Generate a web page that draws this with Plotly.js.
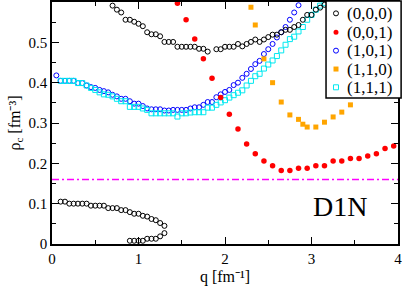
<!DOCTYPE html>
<html><head><meta charset="utf-8">
<script src="https://cdn.plot.ly/plotly-3.0.1.min.js"></script>
<style>html,body{margin:0;padding:0;background:#fff}#chart{width:403px;height:286px}</style>
</head><body><div id="chart"></div>
<script>
// ---- data ----
const seriesNames = ["(0,0,0)", "(0,0,1)", "(1,0,1)", "(1,1,0)", "(1,1,1)"];

// (0,0,0): three branches
const q000_mid = [0.10,0.15,0.20,0.25,0.30,0.35,0.40,0.45,0.50,0.55,0.60,0.65,0.70,0.75,0.80,0.85,0.90,0.95,1.00,1.05,1.10,1.15,1.20,1.25,1.30];
const r000_mid = [0.105,0.105,0.100,0.100,0.100,0.100,0.100,0.095,0.095,0.095,0.095,0.089,0.089,0.089,0.084,0.084,0.079,0.075,0.075,0.070,0.068,0.062,0.059,0.052,0.045];
const q000_low = [0.90,0.95,1.00,1.05,1.10,1.15,1.20,1.25,1.30];
const r000_low = [0.008,0.008,0.008,0.008,0.013,0.013,0.013,0.019,0.027];
const q000_up = [0.70,0.75,0.80,0.85,0.90,0.95,1.00,1.05,1.10,1.15,1.20,1.25,1.30,1.35,1.40,1.45,1.50,1.55,1.60,1.65,1.70,1.75,1.80,
  1.90,1.95,2.00,2.05,2.10,2.15,2.20,2.25,2.30,2.35,2.40,2.45,2.50,2.55,2.60,2.65,2.70,2.75,2.80,2.85,2.90,2.95,3.00,3.05,3.10,3.15];
const r000_up = [0.591,0.581,0.574,0.556,0.556,0.551,0.546,0.540,0.525,0.520,0.520,0.515,0.501,0.501,0.501,0.489,0.489,0.489,0.489,0.489,0.484,0.484,0.477,
  0.483,0.483,0.489,0.489,0.489,0.496,0.490,0.496,0.501,0.507,0.501,0.507,0.513,0.519,0.519,0.525,0.531,0.531,0.538,0.543,0.556,0.568,0.568,0.581,0.586,0.593];

// (0,0,1)
const q001 = [1.45,1.55,1.65,1.75,1.85,1.95,2.05,2.15,2.25,2.35,2.45,2.55,2.65,2.75,2.85,2.95,3.05,3.15,3.25,3.35,3.45,3.55,3.65,3.75,3.85,3.95];
const r001 = [0.597,0.556,0.508,0.459,0.411,0.363,0.322,0.285,0.248,0.224,0.206,0.194,0.182,0.182,0.188,0.188,0.194,0.194,0.206,0.206,0.212,0.212,0.218,0.224,0.237,0.243];

// (1,0,1)
const q101 = [0.05,0.10,0.15,0.20,0.25,0.30,0.35,0.40,0.45,0.50,0.55,0.60,0.65,0.70,0.75,0.80,0.85,0.90,0.95,1.00,1.05,1.10,1.15,1.20,1.25,1.30,1.35,1.40,1.45,1.50,1.55,1.60,1.65,1.70,1.75,1.80,1.85,1.90,1.95,2.00,2.05,2.10,2.15,2.20,2.25,2.30,2.35,2.40,2.45,2.50,2.55,2.60,2.65,2.70,2.75,2.80,2.85];
const r101 = [0.418,0.4045,0.4045,0.4045,0.4045,0.399,0.399,0.393,0.389,
  0.387,0.382,0.379,0.376,0.370,0.366,0.360,0.360,0.354,0.348,0.348,0.342,0.336,0.334,0.334,0.334,0.331,0.331,0.3325,0.3325,0.3325,0.3325,0.336,0.339,0.339,0.345,0.352,0.352,0.364,0.371,0.377,0.382,0.394,0.400,0.412,0.422,0.434,0.446,0.454,0.471,0.483,0.496,0.512,0.525,0.538,0.556,0.574,0.592];

// (1,1,0)
const q110 = [2.30,2.35,2.45,2.55,2.65,2.75,2.85,2.90,2.95,3.05,3.15,3.25,3.35,3.45];
const r110 = [0.587,0.543,0.459,0.400,0.352,0.320,0.309,0.297,0.290,0.290,0.302,0.315,0.327,0.345];

// (1,1,1)
const q111 = [0.10,0.15,0.20,0.25,0.30,0.35,0.40,0.45,0.50,0.55,0.60,0.65,0.70,0.75,0.80,0.85,0.90,0.95,1.00,1.05,1.10,1.15,1.20,1.25,1.30,1.35,1.40,1.45,1.50,1.55,1.60,1.65,1.70,1.75,1.80,1.85,1.90,1.95,2.00,2.05,2.10,2.15,2.20,2.25,2.30,2.35,2.40,2.45,2.50,2.55,2.60,2.65,2.70,2.75,2.80,2.85,2.90,2.95,3.00,3.05,3.10,3.15];
const r111 = [0.4045,0.4045,0.4045,0.4045,0.399,0.399,0.393,0.387,0.382,0.376,0.371,0.370,0.366,0.360,0.354,0.354,0.340,0.340,0.340,0.336,0.3325,0.324,0.324,0.324,0.324,0.324,0.324,0.316,0.324,0.324,0.326,0.3267,0.3267,0.3267,0.338,0.338,0.345,0.351,0.3565,0.363,0.369,0.375,0.381,0.393,0.4045,0.416,0.422,0.435,0.445,0.455,0.466,0.480,0.494,0.508,0.514,0.527,0.538,0.556,0.568,0.581,0.591,0.597];

const rhoSat = [0.16];            // horizontal dash-dot reference density
const xTicks = [0,1,2,3,4];
const yTicks = [0,0.1,0.2,0.3,0.4,0.5];
const yTickText = ["0","0.1","0.2","0.3","0.4","0.5"];
const xTitle = "q [fm\u207B\u00B9]";
const yTitle = "\u03C1<sub>c</sub> [fm\u207B\u00B3]";

// ---- styling ----
const FONT = "'Liberation Serif', 'Times New Roman', serif";
const colors = ["#000000","#ff0000","#0000ff","#ffa500","#00e8f0"];
const symbols = ["circle-open","circle","circle-open","square","square-open"];

const traces = [
  {x: q000_mid.concat(q000_low, q000_up), y: r000_mid.concat(r000_low, r000_up)},
  {x: q001, y: r001},
  {x: q101, y: r101},
  {x: q110, y: r110},
  {x: q111, y: r111}
].map((t,i) => ({
  x: t.x, y: t.y, type: "scatter", mode: "markers", name: seriesNames[i], showlegend: false,
  hoverinfo: "skip",
  marker: {symbol: symbols[i], color: colors[i], size: (i===1?5.5:5),
           line: {color: colors[i], width: (symbols[i].indexOf("open")>=0?1:0)}}
}));
const ordered = [traces[2], traces[4], traces[0], traces[3], traces[1]];

// legend drawn as box + markers + text, in paper coordinates
const shapes = [
  {type:"line", xref:"paper", x0:0, x1:1, yref:"y", y0:rhoSat[0], y1:rhoSat[0],
   line:{color:"#ff00ff", width:1.5, dash:"7px,3px,2px,3px"}},
  {type:"rect", xref:"paper", yref:"paper", x0:0.792, x1:1.009, y0:0.603, y1:1.004,
   fillcolor:"#ffffff", line:{color:"#000", width:1.5}, layer:"above"}
];
const annotations = [];
const rowY = [0.953, 0.875, 0.799, 0.723, 0.6475];
seriesNames.forEach((nm,i) => {
  const filled = symbols[i].indexOf("open") < 0;
  shapes.push({type: symbols[i].startsWith("circle") ? "circle" : "rect",
    xref:"paper", yref:"paper", xsizemode:"pixel", ysizemode:"pixel",
    xanchor:0.8208, yanchor:rowY[i], x0:-2.5, x1:2.5, y0:-2.5, y1:2.5,
    fillcolor: filled ? colors[i] : "rgba(0,0,0,0)",
    line:{color:colors[i], width: filled ? 0 : 1}, layer:"above"});
  annotations.push({text: nm, xref:"paper", yref:"paper", x:0.8468, y:rowY[i],
    xanchor:"left", yanchor:"middle", showarrow:false, font:{family:FONT, size:17, color:"#000"}});
});
annotations.push({text:"D1N", xref:"paper", yref:"paper", x:0.832, y:0.157, xanchor:"center", yanchor:"middle",
  showarrow:false, font:{family:FONT, size:28, color:"#000"}});

const axisCommon = {
  showgrid:false, zeroline:false, showline:true, linecolor:"#000", linewidth:1.5, mirror:"ticks",
  ticks:"inside", ticklen:7, tickwidth:1.2, tickcolor:"#000",
  tickfont:{family:FONT, size:15, color:"#000"},
};
const layout = {
  width:403, height:286, margin:{l:52, r:5, t:2, b:42},
  font:{family:FONT, size:15, color:"#000"},
  paper_bgcolor:"#fff", plot_bgcolor:"#fff", showlegend:false,
  xaxis: Object.assign({}, axisCommon, {range:[0,4], tickvals:xTicks, ticktext:xTicks.map(String),
    minor:{dtick:0.5, ticks:"inside", ticklen:4, tickwidth:1.2, tickcolor:"#000"},
    title:{text:xTitle, font:{family:FONT, size:16, color:"#000"}, standoff:6}}),
  yaxis: Object.assign({}, axisCommon, {range:[0,0.6], tickvals:yTicks, ticktext:yTickText,
    minor:{dtick:0.05, ticks:"inside", ticklen:4, tickwidth:1.2, tickcolor:"#000"},
    title:{text:yTitle, font:{family:FONT, size:16, color:"#000"}, standoff:4}}),
  shapes: shapes, annotations: annotations
};
Plotly.newPlot("chart", ordered, layout, {displayModeBar:false});
</script></body></html>
